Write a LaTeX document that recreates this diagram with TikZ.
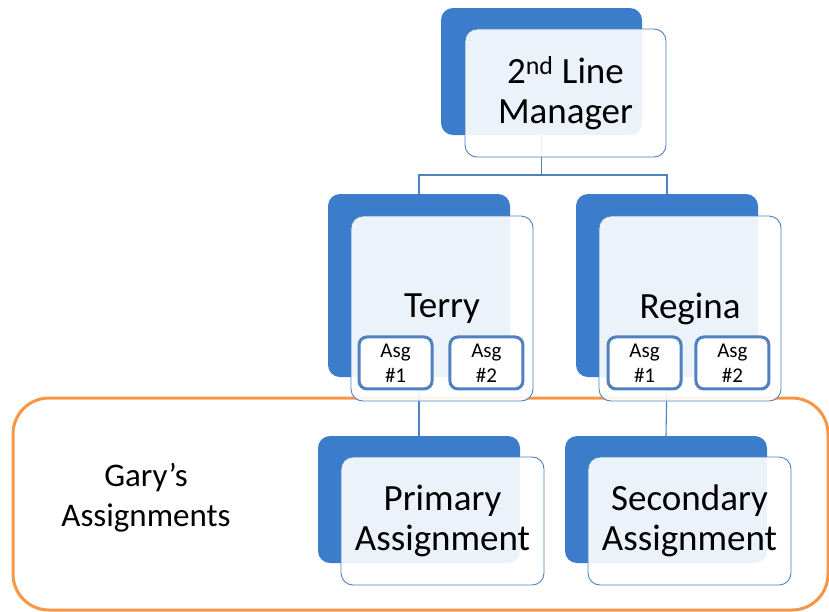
\documentclass[tikz,border=0pt]{standalone}
\usepackage{fontspec}
\setmainfont{Carlito}
\usetikzlibrary{positioning}
\definecolor{backblue}{RGB}{59,125,202}
\definecolor{edgeblue}{RGB}{79,129,189}
\definecolor{asgblue}{RGB}{80,128,192}
\definecolor{garyorange}{RGB}{247,150,70}
\tikzset{
  backbox/.style={fill=backblue,rounded corners=12pt,inner sep=0pt},
  frontbox/.style={draw=edgeblue,line width=0.9pt,fill=white,fill opacity=0.9,text opacity=1,
    rounded corners=12pt,inner sep=0pt,align=center,font=\fontsize{37}{40}\selectfont},
  asgbox/.style={draw=asgblue,line width=3pt,fill=white,rounded corners=8pt,inner sep=0pt,
    minimum width=73pt,minimum height=52pt,align=center,font=\fontsize{21}{25}\selectfont},
  conn/.style={draw=edgeblue,line width=1.1pt}
}

\begin{document}
\begin{tikzpicture}[x=1pt,y=-1pt]
\useasboundingbox (0,0) rectangle (829,611);
% Gary's area
\draw[garyorange,line width=3pt,rounded corners=36pt] (13,398) rectangle (828,610);
\node[align=center,font=\fontsize{33}{40}\selectfont] (gary) at (146,498) {Gary’s\\Assignments};
% back boxes
\node[backbox,minimum width=201pt,minimum height=127pt] (mgrback) at (541.5,71.5) {};
\node[backbox,minimum width=182pt,minimum height=183pt] (terryback) at (419,285.5) {};
\node[backbox,minimum width=182pt,minimum height=183pt] (reginaback) at (667,285.5) {};
\node[backbox,minimum width=202pt,minimum height=127pt] (primaryback) at (419,499.5) {};
\node[backbox,minimum width=202pt,minimum height=127pt] (secondaryback) at (666,499.5) {};
% connectors
\coordinate (fork) at (541.5,175);
\draw[conn] (mgrback.south) -- (fork);
\draw[conn] (terryback.north) |- (fork) -| (reginaback.north);
\draw[conn] (terryback.south) -- (primaryback.north);
\draw[conn] (reginaback.south) -- (secondaryback.north);
% front boxes
\node[frontbox,minimum width=201pt,minimum height=128pt] (mgr) at (565.5,93) {2\textsuperscript{nd} Line\\Manager};
\node[frontbox,minimum width=182pt,minimum height=185pt] (terry) at (442,308.5) {Terry};
\node[frontbox,minimum width=182pt,minimum height=185pt] (regina) at (690,308.5) {Regina};
\node[frontbox,minimum width=203pt,minimum height=128pt] (primary) at (442.5,521) {Primary\\Assignment};
\node[frontbox,minimum width=203pt,minimum height=128pt] (secondary) at (689.5,521) {Secondary\\Assignment};
% assignment slots
\node[asgbox,anchor=south west] (terryasga) at ([shift={(7pt,11pt)}]terry.south west) {Asg\\\#1};
\node[asgbox,anchor=south east] (terryasgb) at ([shift={(-9pt,11pt)}]terry.south east) {Asg\\\#2};
\node[asgbox,anchor=south west] (reginaasga) at ([shift={(8pt,11pt)}]regina.south west) {Asg\\\#1};
\node[asgbox,anchor=south east] (reginaasgb) at ([shift={(-11pt,11pt)}]regina.south east) {Asg\\\#2};
\end{tikzpicture}
\end{document}
